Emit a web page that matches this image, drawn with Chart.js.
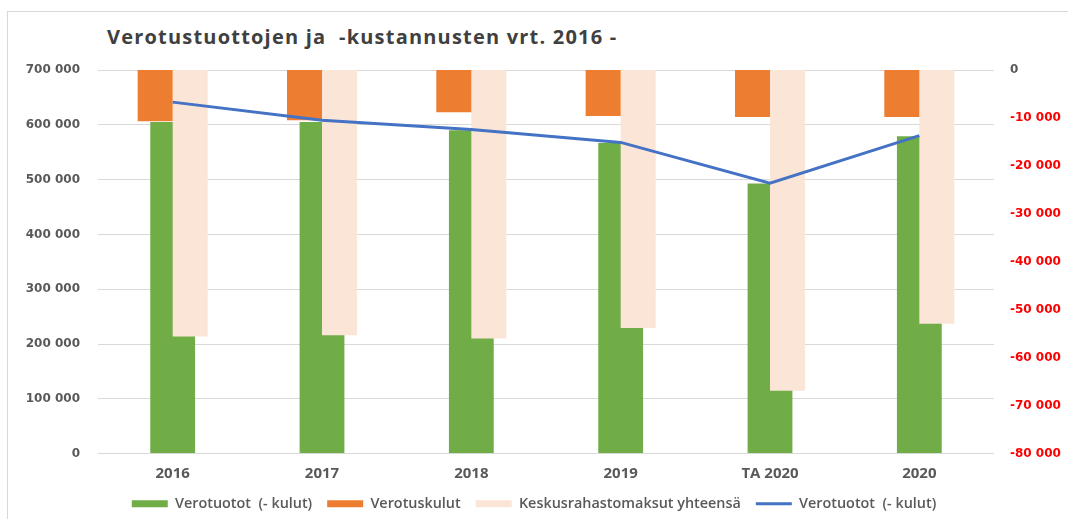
<!DOCTYPE html>
<html>
<head>
<meta charset="utf-8">
<script src="https://cdn.jsdelivr.net/npm/chart.js@4"></script>
<style>
  html, body { margin: 0; padding: 0; background: #fff; }
  #wrap { position: relative; width: 1068px; height: 519px; overflow: hidden; }
  #frame { position: absolute; left: 7px; top: 11px; width: 1080px; height: 530px; border: 1px solid #d9d9d9; }
  #title { position: absolute; left: 107px; top: 23px; font: bold 20px "Open Sans", sans-serif; letter-spacing: 1.2px; color: #404040; white-space: pre; }
  canvas { position: absolute; left: 0; top: 0; }
</style>
</head>
<body>
<div id="wrap">
  <div id="frame"></div>
  <div id="title">Verotustuottojen ja  -kustannusten vrt. 2016 -</div>
  <canvas id="myChart" width="1068" height="519"></canvas>
</div>
<script>
const categories = ['2016', '2017', '2018', '2019', 'TA 2020', '2020'];
const verotuotot = [605000, 605000, 590000, 567000, 493000, 579000];
const verotuskulut = [-10700, -10500, -8800, -9600, -9800, -9800];
const keskusrahasto = [-55600, -55300, -56000, -53800, -66900, -52900];
const verotuototLine = [-6700, -10500, -12400, -15100, -23600, -13700];

const fmt = v => String(v).replace(/\B(?=(\d{3})+(?!\d))/g, ' ');
const tickFont = { family: 'DejaVu Sans', size: 12, weight: 'bold' };

const ctx = document.getElementById('myChart').getContext('2d');

const chart = new Chart(ctx, {
  type: 'bar',
  data: {
    labels: categories,
    datasets: [
      {
        label: 'Verotuotot  (- kulut)',
        data: verotuotot,
        backgroundColor: '#70ad47',
        yAxisID: 'y',
        grouped: false,
        categoryPercentage: 1,
        barPercentage: 0.3,
        pointStyle: 'rect',
        order: 3
      },
      {
        label: 'Verotuskulut',
        data: verotuskulut,
        backgroundColor: '#ed7d31',
        yAxisID: 'y1',
        categoryPercentage: 0.469,
        barPercentage: 1,
        pointStyle: 'rect',
        order: 2
      },
      {
        label: 'Keskusrahastomaksut yhteensä',
        data: keskusrahasto,
        backgroundColor: '#fbe5d6',
        yAxisID: 'y1',
        categoryPercentage: 0.469,
        barPercentage: 1,
        pointStyle: 'rect',
        order: 2
      },
      {
        type: 'line',
        label: 'Verotuotot  (- kulut)',
        data: verotuototLine,
        borderColor: '#4472c4',
        backgroundColor: '#4472c4',
        borderWidth: 3,
        pointRadius: 0,
        pointStyle: 'line',
        tension: 0,
        yAxisID: 'y1',
        order: 0
      }
    ]
  },
  options: {
    responsive: false,
    animation: false,
    layout: { padding: { top: 70, left: 0, right: 0, bottom: -2 } },
    plugins: {
      tooltip: { enabled: false },
      legend: {
        position: 'bottom',
        labels: {
          usePointStyle: true,
          pointStyleWidth: 36,
          boxHeight: 7,
          padding: 15,
          color: '#595959',
          font: { family: 'Open Sans', size: 14.4, weight: '600' },
          sort: (a, b) => a.datasetIndex - b.datasetIndex
        }
      }
    },
    scales: {
      x: {
        type: 'category',
        offset: true,
        grid: { display: false },
        border: { display: false },
        ticks: { color: '#595959', font: { family: 'Open Sans', size: 15, weight: 'bold' }, padding: 3 },
        afterFit: s => { s.height = 28; }
      },
      y: {
        position: 'left',
        min: 0,
        max: 700000,
        ticks: { stepSize: 100000, color: '#595959', font: tickFont, padding: 18, callback: v => fmt(v) },
        grid: { color: '#d9d9d9', drawTicks: false },
        border: { display: false },
        afterFit: s => { s.width = 98; }
      },
      y1: {
        position: 'right',
        min: -80000,
        max: 0,
        ticks: {
          stepSize: 10000,
          font: tickFont,
          padding: 16,
          color: c => (c.tick && c.tick.value === 0 ? '#595959' : '#ff0000'),
          callback: v => fmt(v)
        },
        grid: { display: false, drawTicks: false },
        border: { display: false },
        afterFit: s => { s.width = 74; }
      }
    }
  }
});
</script>
</body>
</html>
